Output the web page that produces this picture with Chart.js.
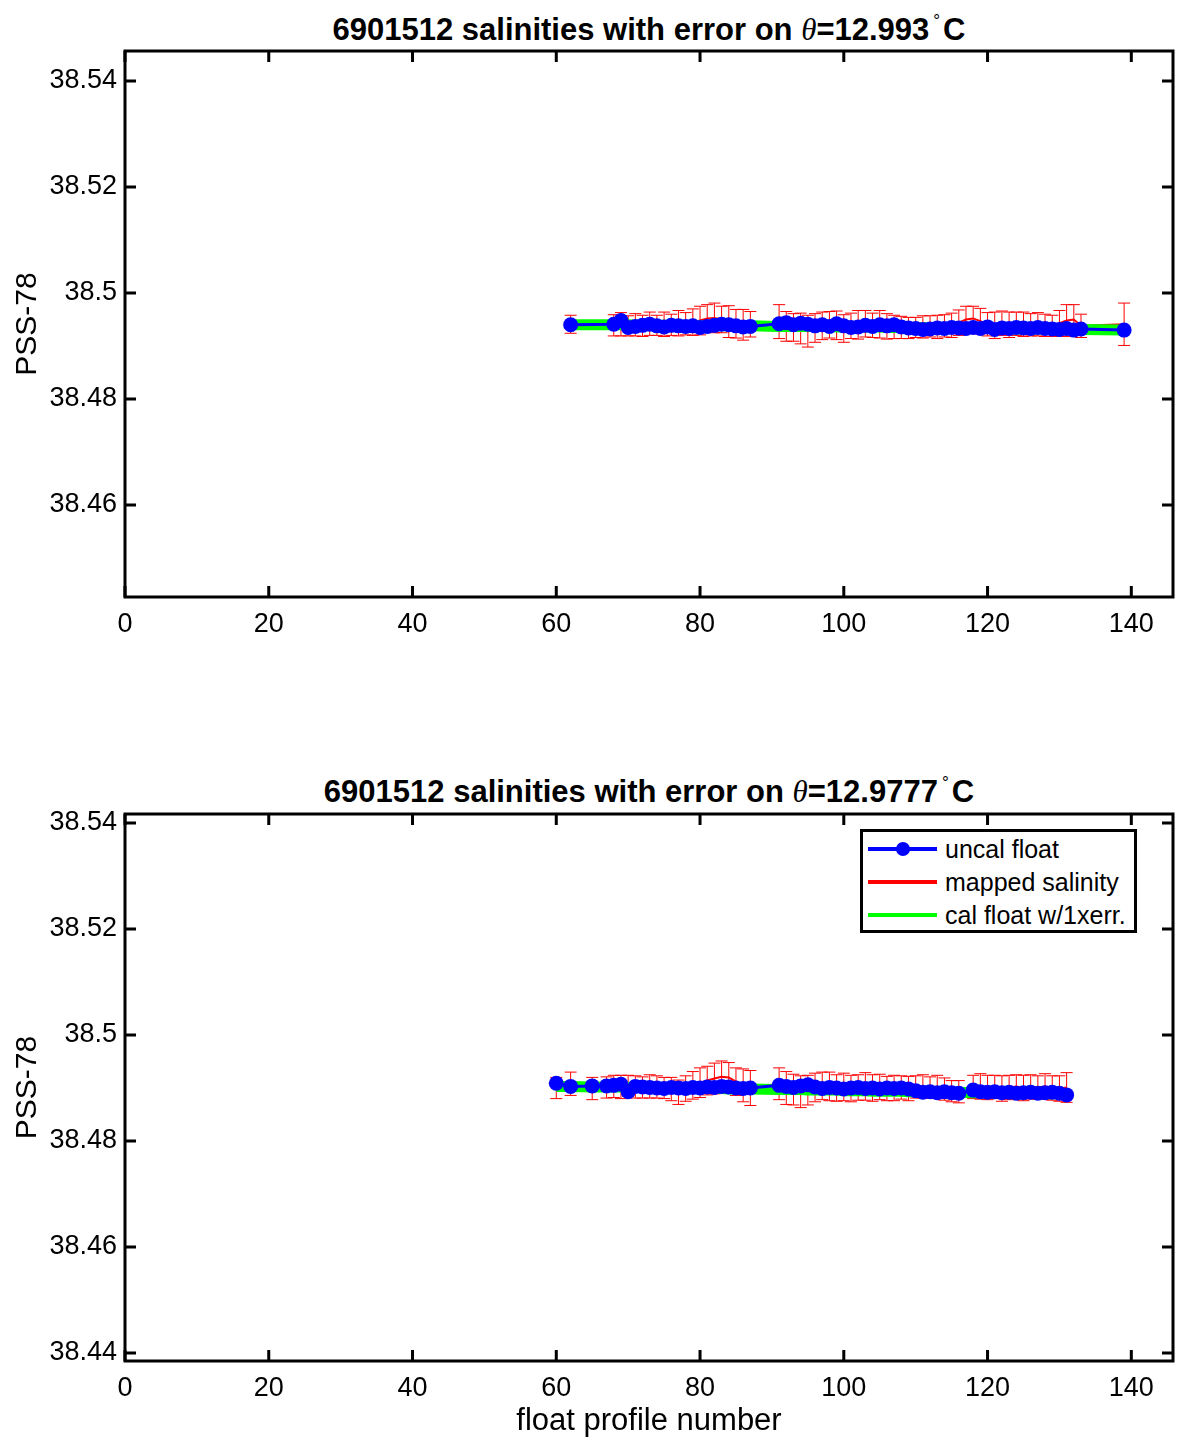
<!DOCTYPE html>
<html>
<head>
<meta charset="utf-8">
<script src="https://cdn.jsdelivr.net/npm/chart.js@4/dist/chart.umd.min.js"></script>
<style>
  body { margin: 0; background: #fff; width: 1177px; height: 1441px; position: relative; overflow: hidden;
         font-family: "Liberation Sans", Arial, sans-serif; color: #000; }
  canvas { position: absolute; left: 0; }
  .title { position: absolute; left: 125px; width: 1048px; text-align: center; font-weight: bold;
           font-size: 31px; line-height: 36px; white-space: nowrap; }
  .title i { font-family: "Liberation Serif", serif; font-weight: normal; }
  .title sup { font-size: 17px; font-weight: normal; vertical-align: 14px; margin: 0 3px 0 4px; }
  #legend { position: absolute; left: 860px; top: 829px; width: 277px; height: 104px; box-sizing: border-box;
            border: 3px solid #000; background: #fff; }
  #legend .row { position: absolute; left: 0; height: 30px; width: 270px; }
  #legend .swatch { position: absolute; left: 5px; top: 13px; width: 69px; height: 4px; }
  #legend .dot { position: absolute; left: 33px; top: 8px; width: 14px; height: 14px; border-radius: 50%; background: #0000ff; }
  #legend .label { position: absolute; left: 82px; top: 0; font-size: 25px; line-height: 30px; white-space: nowrap; }
</style>
</head>
<body>
<div class="title" style="top:3px">6901512 salinities with error on <i>θ</i>=12.993<sup>°</sup>C</div>
<canvas id="chartTop" width="1177" height="680" style="top:0"></canvas>
<div class="title" style="top:765px">6901512 salinities with error on <i>θ</i>=12.9777<sup>°</sup>C</div>
<canvas id="chartBot" width="1177" height="678" style="top:763px"></canvas>
<div id="legend">
  <div class="row" style="top:2px"><div class="swatch" style="background:#0000ff"></div><div class="dot"></div><div class="label">uncal float</div></div>
  <div class="row" style="top:35px"><div class="swatch" style="background:#ff0000"></div><div class="label">mapped salinity</div></div>
  <div class="row" style="top:68px"><div class="swatch" style="background:#00ff00"></div><div class="label">cal float w/1xerr.</div></div>
</div>
<script>
// tick labels
const xTicks = [0, 20, 40, 60, 80, 100, 120, 140];
const yTicksTop = [38.46, 38.48, 38.5, 38.52, 38.54];
const yTicksBot = [38.44, 38.46, 38.48, 38.5, 38.52, 38.54];

// top panel: theta = 12.993
const profilesTop = [62, 68, 69, 70, 71, 72, 73, 74, 75, 76, 77, 78, 79, 80, 81, 82, 83, 84, 85, 86, 87,
  91, 92, 93, 94, 95, 96, 97, 98, 99, 100, 101, 102, 103, 104, 105, 106, 107, 108, 109, 110,
  111, 112, 113, 114, 115, 116, 117, 118, 119, 120, 121, 122, 123, 124, 125, 126, 127, 128, 129, 130,
  131, 132, 133, 139];
const uncalTop = [38.4940, 38.4941, 38.4948, 38.4935, 38.4937, 38.4939, 38.4941, 38.4938, 38.4936, 38.4939,
  38.4938, 38.4937, 38.4938, 38.4935, 38.4937, 38.4939, 38.4941, 38.4940, 38.4938, 38.4936, 38.4937,
  38.4942, 38.4944, 38.4940, 38.4943, 38.4941, 38.4938, 38.4940, 38.4937, 38.4942, 38.4938,
  38.4935, 38.4936, 38.4939, 38.4937, 38.4940, 38.4938, 38.4940, 38.4936, 38.4934, 38.4933,
  38.4931, 38.4932, 38.4934, 38.4933, 38.4935, 38.4934, 38.4933, 38.4935, 38.4933, 38.4936,
  38.4931, 38.4934, 38.4933, 38.4935, 38.4934, 38.4933, 38.4935, 38.4933, 38.4932, 38.4931,
  38.4933, 38.4930, 38.4932, 38.4930];
const calTop = [38.4940, 38.4940, 38.4940, 38.4940, 38.4939, 38.4939, 38.4939, 38.4939, 38.4939, 38.4939,
  38.4939, 38.4939, 38.4938, 38.4938, 38.4938, 38.4938, 38.4938, 38.4938, 38.4938, 38.4938, 38.4938,
  38.4937, 38.4937, 38.4937, 38.4937, 38.4937, 38.4937, 38.4937, 38.4937, 38.4936, 38.4936,
  38.4936, 38.4936, 38.4936, 38.4936, 38.4936, 38.4935, 38.4935, 38.4935, 38.4935, 38.4935,
  38.4935, 38.4934, 38.4934, 38.4934, 38.4934, 38.4934, 38.4934, 38.4933, 38.4933, 38.4933,
  38.4933, 38.4933, 38.4933, 38.4932, 38.4932, 38.4932, 38.4932, 38.4932, 38.4931, 38.4931,
  38.4931, 38.4931, 38.4931, 38.4930];
const mappedTop = [38.4941, 38.4939, 38.4941, 38.4938, 38.4940, 38.4938, 38.4942, 38.4939, 38.4941, 38.4940,
  38.4943, 38.4942, 38.4945, 38.4948, 38.4952, 38.4953, 38.4950, 38.4946, 38.4942, 38.4940, 38.4941,
  38.4946, 38.4937, 38.4935, 38.4933, 38.4928, 38.4934, 38.4938, 38.4940, 38.4939, 38.4933,
  38.4938, 38.4940, 38.4942, 38.4939, 38.4941, 38.4937, 38.4936, 38.4935, 38.4934, 38.4935,
  38.4936, 38.4937, 38.4936, 38.4938, 38.4939, 38.4944, 38.4950, 38.4952, 38.4947, 38.4941,
  38.4939, 38.4943, 38.4940, 38.4942, 38.4941, 38.4940, 38.4941, 38.4939, 38.4938, 38.4943,
  38.4948, 38.4950, 38.4938, 38.4941];
const mappedErrTop = [0.0017, 0.0020, 0.0022, 0.0019, 0.0021, 0.0020, 0.0022, 0.0019, 0.0023, 0.0020,
  0.0024, 0.0021, 0.0025, 0.0027, 0.0026, 0.0028, 0.0025, 0.0030, 0.0027, 0.0029, 0.0024,
  0.0032, 0.0028, 0.0026, 0.0029, 0.0030, 0.0027, 0.0026, 0.0025, 0.0027, 0.0026,
  0.0024, 0.0027, 0.0025, 0.0023, 0.0026, 0.0024, 0.0022, 0.0021, 0.0020, 0.0019,
  0.0021, 0.0020, 0.0022, 0.0021, 0.0023, 0.0024, 0.0025, 0.0023, 0.0024, 0.0022,
  0.0025, 0.0023, 0.0024, 0.0022, 0.0023, 0.0021, 0.0022, 0.0021, 0.0020, 0.0024,
  0.0030, 0.0028, 0.0022, 0.0040];

// bottom panel: theta = 12.9777
const profilesBot = [60, 62, 65, 67, 68, 69, 70, 71, 72, 73, 74, 75, 76, 77, 78, 79, 80, 81, 82, 83, 84, 85, 86, 87,
  91, 92, 93, 94, 95, 96, 97, 98, 99, 100, 101, 102, 103, 104, 105, 106, 107, 108, 109, 110,
  111, 112, 113, 114, 115, 116, 118, 119, 120, 121, 122, 123, 124, 125, 126, 127, 128, 129, 130, 131];
const uncalBot = [38.4909, 38.4903, 38.4904, 38.4904, 38.4905, 38.4907, 38.4893, 38.4903, 38.4902, 38.4901,
  38.4900, 38.4899, 38.4901, 38.4900, 38.4899, 38.4901, 38.4900, 38.4902, 38.4901, 38.4903, 38.4902,
  38.4900, 38.4899, 38.4900,
  38.4905, 38.4903, 38.4901, 38.4904, 38.4906, 38.4902, 38.4899, 38.4901, 38.4900, 38.4898,
  38.4900, 38.4901, 38.4899, 38.4900, 38.4898, 38.4900, 38.4899, 38.4900, 38.4898, 38.4895,
  38.4892, 38.4893, 38.4891, 38.4893, 38.4891, 38.4890, 38.4896, 38.4893, 38.4892, 38.4893,
  38.4891, 38.4892, 38.4890, 38.4891, 38.4892, 38.4890, 38.4891, 38.4892, 38.4890, 38.4887];
const calBot = [38.4903, 38.4903, 38.4902, 38.4902, 38.4902, 38.4902, 38.4901, 38.4901, 38.4901, 38.4901,
  38.4900, 38.4900, 38.4900, 38.4900, 38.4900, 38.4899, 38.4899, 38.4899, 38.4899, 38.4899, 38.4898,
  38.4898, 38.4898, 38.4898,
  38.4897, 38.4897, 38.4897, 38.4897, 38.4896, 38.4896, 38.4896, 38.4896, 38.4896, 38.4895,
  38.4895, 38.4895, 38.4895, 38.4894, 38.4894, 38.4894, 38.4894, 38.4894, 38.4893, 38.4893,
  38.4893, 38.4893, 38.4892, 38.4892, 38.4892, 38.4892, 38.4891, 38.4891, 38.4891, 38.4891,
  38.4890, 38.4890, 38.4890, 38.4890, 38.4890, 38.4889, 38.4889, 38.4889, 38.4889, 38.4889];
const mappedBot = [38.4900, 38.4908, 38.4899, 38.4901, 38.4903, 38.4902, 38.4904, 38.4902, 38.4901, 38.4903,
  38.4902, 38.4900, 38.4898, 38.4892, 38.4899, 38.4905, 38.4910, 38.4914, 38.4918, 38.4921, 38.4920,
  38.4912, 38.4905, 38.4900,
  38.4908, 38.4900, 38.4897, 38.4893, 38.4896, 38.4901, 38.4904, 38.4903, 38.4900, 38.4902,
  38.4899, 38.4901, 38.4903, 38.4900, 38.4902, 38.4899, 38.4900, 38.4901, 38.4899, 38.4902,
  38.4903, 38.4901, 38.4902, 38.4898, 38.4894, 38.4893, 38.4902, 38.4903, 38.4901, 38.4902,
  38.4899, 38.4901, 38.4903, 38.4900, 38.4902, 38.4901, 38.4903, 38.4900, 38.4899, 38.4901];
const mappedErrBot = [0.0020, 0.0022, 0.0021, 0.0020, 0.0021, 0.0022, 0.0020, 0.0021, 0.0020, 0.0022,
  0.0021, 0.0020, 0.0022, 0.0023, 0.0024, 0.0026, 0.0028, 0.0027, 0.0029, 0.0030, 0.0028,
  0.0026, 0.0031, 0.0033,
  0.0030, 0.0031, 0.0029, 0.0030, 0.0028, 0.0027, 0.0026, 0.0027, 0.0025, 0.0026,
  0.0025, 0.0024, 0.0026, 0.0025, 0.0024, 0.0023, 0.0024, 0.0022, 0.0023, 0.0021,
  0.0022, 0.0020, 0.0022, 0.0021, 0.0020, 0.0021, 0.0022, 0.0024, 0.0023, 0.0022,
  0.0024, 0.0023, 0.0022, 0.0024, 0.0023, 0.0022, 0.0024, 0.0023, 0.0024, 0.0028];

Chart.defaults.color = "#000";
Chart.defaults.font.family = '"Liberation Sans", Arial, sans-serif';

// red error bars, drawn right after the mapped salinity line
const errorBars = {
  id: "errorBars",
  afterDatasetDraw(chart, args) {
    const ds = chart.data.datasets[args.index];
    if (!ds.errors) return;
    const { ctx, scales: { x, y } } = chart;
    ctx.save();
    ctx.strokeStyle = "#ff0000";
    ctx.lineWidth = 1;
    ds.data.forEach((p, i) => {
      const px = x.getPixelForValue(p.x);
      const hi = y.getPixelForValue(p.y + ds.errors[i]);
      const lo = y.getPixelForValue(p.y - ds.errors[i]);
      ctx.beginPath();
      ctx.moveTo(px, hi); ctx.lineTo(px, lo);
      ctx.moveTo(px - 6, hi); ctx.lineTo(px + 6, hi);
      ctx.moveTo(px - 6, lo); ctx.lineTo(px + 6, lo);
      ctx.stroke();
    });
    ctx.restore();
  }
};

// matlab style box with inward tick marks on all four sides
const boxFrame = {
  id: "boxFrame",
  afterDraw(chart) {
    const { ctx, chartArea: a, scales: { x, y } } = chart;
    ctx.save();
    ctx.strokeStyle = "#000";
    ctx.lineWidth = 3;
    ctx.beginPath();
    x.ticks.forEach(t => {
      const px = x.getPixelForValue(t.value);
      ctx.moveTo(px, a.bottom); ctx.lineTo(px, a.bottom - 11);
      ctx.moveTo(px, a.top); ctx.lineTo(px, a.top + 11);
    });
    y.ticks.forEach(t => {
      const py = y.getPixelForValue(t.value);
      ctx.moveTo(a.left, py); ctx.lineTo(a.left + 11, py);
      ctx.moveTo(a.right, py); ctx.lineTo(a.right - 11, py);
    });
    ctx.stroke();
    ctx.strokeRect(a.left, a.top, a.right - a.left, a.bottom - a.top);
    ctx.restore();
  }
};

function makeChart(id, profiles, uncal, cal, mapped, mappedErr, yMin, yMax, yTicks, xTitle, xHeight) {
  const pts = vals => profiles.map((p, i) => ({ x: p, y: vals[i] }));
  return new Chart(document.getElementById(id), {
    type: "line",
    data: {
      datasets: [
        { label: "uncal float", data: pts(uncal), borderColor: "#0000ff", backgroundColor: "#0000ff",
          borderWidth: 3, pointRadius: 7.5, pointBorderWidth: 0, pointBackgroundColor: "#0000ff" },
        { label: "cal float w/1xerr.", data: pts(cal), borderColor: "#00ff00", borderWidth: 11,
          pointRadius: 0, borderCapStyle: "butt" },
        { label: "mapped salinity", data: pts(mapped), errors: mappedErr, borderColor: "#ff0000",
          borderWidth: 2, pointRadius: 0 }
      ]
    },
    options: {
      responsive: false,
      animation: false,
      events: [],
      layout: { autoPadding: false, padding: { top: 51, right: 4, left: 0, bottom: 0 } },
      plugins: { legend: { display: false }, tooltip: { enabled: false } },
      scales: {
        x: {
          type: "linear", min: 0, max: 145.8,
          grid: { display: false, drawTicks: false }, border: { display: false },
          afterBuildTicks: ax => { ax.ticks = xTicks.map(v => ({ value: v })); },
          afterFit: ax => { ax.height = xHeight; },
          ticks: { font: { size: 27 }, padding: 11, maxRotation: 0 },
          title: { display: !!xTitle, text: xTitle, font: { size: 31 }, padding: { top: 0, bottom: 1 } }
        },
        y: {
          type: "linear", min: yMin, max: yMax,
          grid: { display: false, drawTicks: false }, border: { display: false },
          afterBuildTicks: ax => { ax.ticks = yTicks.map(v => ({ value: v })); },
          afterFit: ax => { ax.width = 125; },
          ticks: { font: { size: 27 }, padding: 8, callback: v => String(v) },
          title: { display: true, text: "PSS-78", font: { size: 30 }, padding: { top: 10, bottom: 0 } }
        }
      }
    },
    plugins: [errorBars, boxFrame]
  });
}

makeChart("chartTop", profilesTop, uncalTop, calTop, mappedTop, mappedErrTop,
  38.44264, 38.54566, yTicksTop, "", 83);
makeChart("chartBot", profilesBot, uncalBot, calBot, mappedBot, mappedErrBot,
  38.43849, 38.54170, yTicksBot, "float profile number", 80);
</script>
</body>
</html>
